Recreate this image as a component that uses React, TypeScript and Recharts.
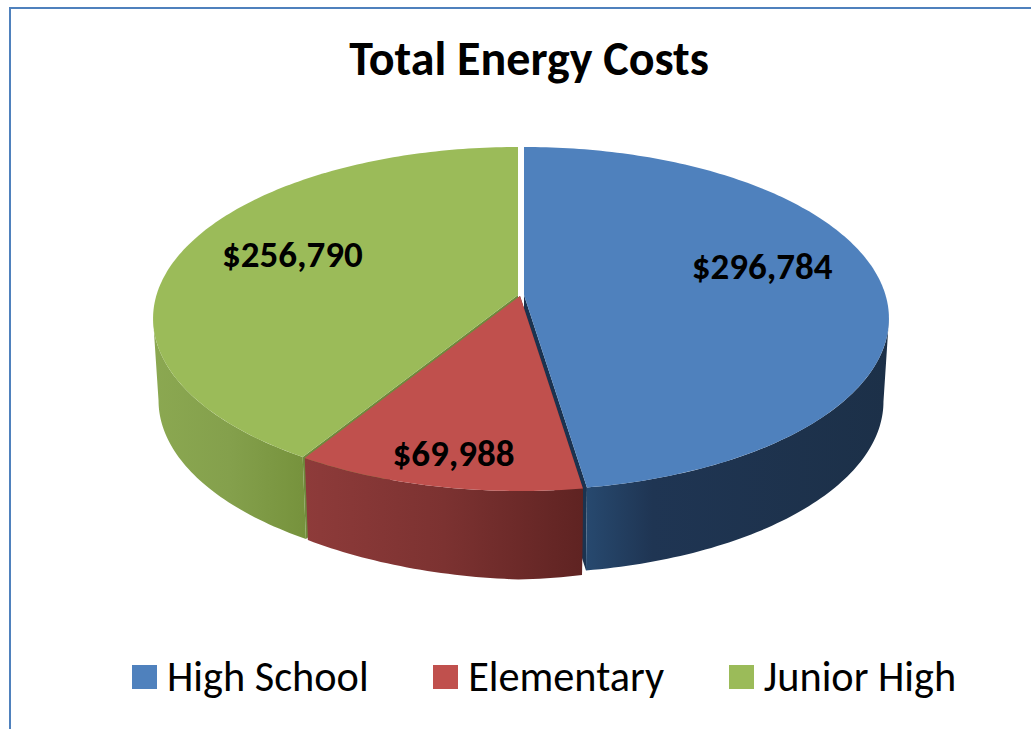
import React from "react";
import { PieChart, Pie, Legend } from "recharts";

const TITLE = "Total Energy Costs";
const categories = ["High School", "Elementary", "Junior High"];
const costs = [296784, 69988, 256790];
const labelTexts = ["$296,784", "$69,988", "$256,790"];
const topColors = ["#4f81bd", "#c0504d", "#9bbb59"];
const cutColors = ["#1b3350", "#5f2322", "#6f8a3c"];
const wallStops = [
  ["#27496f", "#1f3553", "#1c3048"],
  ["#8e3b3a", "#7c3231", "#5f2322"],
  ["#8ba851", "#84a04c", "#76923c"],
];
const wallOffsets = [
  ["0%", "22%", "100%"],
  ["0%", "50%", "100%"],
  ["0%", "50%", "100%"],
];

const FONT = "Carlito, Lato, sans-serif";
const W = 1031;
const H = 729;
const CX = 521;
const CY = 295;
const R = 361.5;
const SQUASH = 168.3 / 361.5;
const K = 0.137; // perspective strength
const DEPTH_BASE = [83, 88.5, 82];
const DEPTH_SLOPE = [0, 0.03, 0];
const BOTTOM_SCALE = 0.985;
const SHIFT = [
  { x: 3, y: 0 },
  { x: -1, y: 1 },
  { x: -3, y: 0 },
];
const LABEL_PLACE = [
  { r: 0.665, dx: 0, dy: -20 },
  { r: 0.85, dx: 3, dy: -1 },
  { r: 0.65, dx: -5, dy: -11 },
];

const tableRows = categories.map((name, i) => ({ name, value: costs[i], fill: topColors[i] }));

type P = { x: number; y: number };

// Angle is clockwise from the back of the disc; r is a fraction of the radius.
function project(cx: number, cy: number, rad: number, clockDeg: number, r = 1): P {
  const a = (clockDeg * Math.PI) / 180;
  const u = Math.sin(a) * r;
  const v = -Math.cos(a) * r;
  const w = 1 - K * v;
  return { x: cx + (rad * u) / w, y: cy + (rad * SQUASH * v) / w };
}

const toPath = (pts: P[]) =>
  pts.map((p, i) => `${i ? "L" : "M"}${p.x.toFixed(2)} ${p.y.toFixed(2)}`).join(" ") + " Z";

const lower = (p: P, cx: number, s: { x: number; y: number }, i: number): P => ({
  x: cx + s.x + (p.x - cx - s.x) * BOTTOM_SCALE,
  y: p.y + DEPTH_BASE[i] - DEPTH_SLOPE[i] * Math.abs(p.x - cx - s.x),
});

function rim(cx: number, cy: number, rad: number, a0: number, a1: number): P[] {
  const out: P[] = [];
  const n = Math.max(2, Math.ceil(Math.abs(a1 - a0)));
  for (let i = 0; i <= n; i++) out.push(project(cx, cy, rad, a0 + ((a1 - a0) * i) / n));
  return out;
}

function sliceGeometry(props: any) {
  const i = categories.indexOf(props.name ?? props.payload?.name);
  const s = SHIFT[i];
  const cx = props.cx + s.x;
  const cy = props.cy + s.y;
  const a0 = 90 - props.startAngle;
  const a1 = 90 - props.endAngle;
  return { i, s, cx, cy, rad: props.outerRadius, a0, a1 };
}

const CutShape = (props: any) => {
  const { i, s, cx, cy, rad, a0, a1 } = sliceGeometry(props);
  const apex = { x: cx, y: cy };
  const faces = [a0, a1].map((a) => {
    const p = project(cx, cy, rad, a);
    return toPath([apex, p, lower(p, props.cx, s, i), lower(apex, props.cx, s, i)]);
  });
  return (
    <g>
      {faces.map((d, k) => (
        <path key={k} d={d} fill={cutColors[i]} />
      ))}
    </g>
  );
};

const WallShape = (props: any) => {
  const { i, s, cx, cy, rad, a0, a1 } = sliceGeometry(props);
  const edge = (Math.acos(-K) * 180) / Math.PI;
  const from = Math.max(a0, edge);
  const to = Math.min(a1, 360 - edge);
  if (to <= from) return <g />;
  const top = rim(cx, cy, rad, from, to);
  const bottom = top.map((p) => lower(p, props.cx, s, i)).reverse();
  const id = `wall-${i}`;
  return (
    <g>
      <defs>
        <linearGradient id={id} x1="0" y1="0" x2="1" y2="0">
          {wallStops[i].map((c, k) => (
            <stop key={k} offset={wallOffsets[i][k]} stopColor={c} />
          ))}
        </linearGradient>
      </defs>
      <path d={toPath([...top, ...bottom])} fill={`url(#${id})`} />
    </g>
  );
};

const TopShape = (props: any) => {
  const { i, cx, cy, rad, a0, a1 } = sliceGeometry(props);
  return <path d={toPath([{ x: cx, y: cy }, ...rim(cx, cy, rad, a0, a1)])} fill={topColors[i]} />;
};

const renderLabel = (props: any) => {
  const i = categories.indexOf(props.name ?? props.payload?.name);
  const place = LABEL_PLACE[i];
  const p = project(props.cx + SHIFT[i].x, props.cy + SHIFT[i].y, props.outerRadius, 90 - props.midAngle, place.r);
  return (
    <text
      x={p.x + place.dx}
      y={p.y + place.dy}
      textAnchor="middle"
      dominantBaseline="central"
      fontFamily={FONT}
      fontWeight={700}
      fontSize={37}
      fill="#000"
    >
      {labelTexts[i]}
    </text>
  );
};

const LegendContent = (props: any) => {
  const items = (props.payload || []).filter((e: any) => e.type !== "none");
  return (
    <div style={{ display: "flex", alignItems: "center", whiteSpace: "nowrap" }}>
      {items.map((e: any) => (
        <div key={e.value} style={{ display: "flex", alignItems: "center", marginRight: 64.5 }}>
          <span style={{ display: "block", width: 25, height: 24, background: e.color, marginRight: 10 }} />
          <span style={{ color: "#000", fontFamily: FONT, fontSize: 42.3, lineHeight: "52px" }}>{e.value}</span>
        </div>
      ))}
    </div>
  );
};

export default function App() {
  const common = {
    data: tableRows,
    dataKey: "value",
    nameKey: "name",
    cx: CX,
    cy: CY,
    innerRadius: 0,
    outerRadius: R,
    startAngle: 90,
    endAngle: -270,
    stroke: "none",
    isAnimationActive: false,
  };
  return (
    <div style={{ position: "absolute", left: 0, top: 0, width: W, height: H, overflow: "hidden", background: "#fff" }}>
      <div
        style={{
          position: "absolute",
          left: 9,
          top: 7,
          right: 0,
          bottom: 0,
          borderLeft: "2px solid #4f81bd",
          borderTop: "2px solid #4f81bd",
        }}
      />
      <div style={{ position: "absolute", left: 0, top: 0 }}>
        <PieChart width={W} height={H} margin={{ top: 0, right: 0, bottom: 0, left: 0 }}>
          <text
            x={529}
            y={58.5}
            textAnchor="middle"
            dominantBaseline="central"
            fontFamily={FONT}
            fontWeight={700}
            fontSize={48}
            fill="#000"
          >
            {TITLE}
          </text>
          <Pie {...common} legendType="none" shape={CutShape} label={false} labelLine={false} />
          <Pie {...common} legendType="none" shape={WallShape} label={false} labelLine={false} />
          <Pie {...common} legendType="square" shape={TopShape} label={renderLabel} labelLine={false} />
          <Legend
            layout="horizontal"
            align="left"
            verticalAlign="bottom"
            itemSorter={null}
            content={LegendContent}
            wrapperStyle={{ left: 132, top: 651, bottom: "auto", width: 899 }}
          />
        </PieChart>
      </div>
    </div>
  );
}
